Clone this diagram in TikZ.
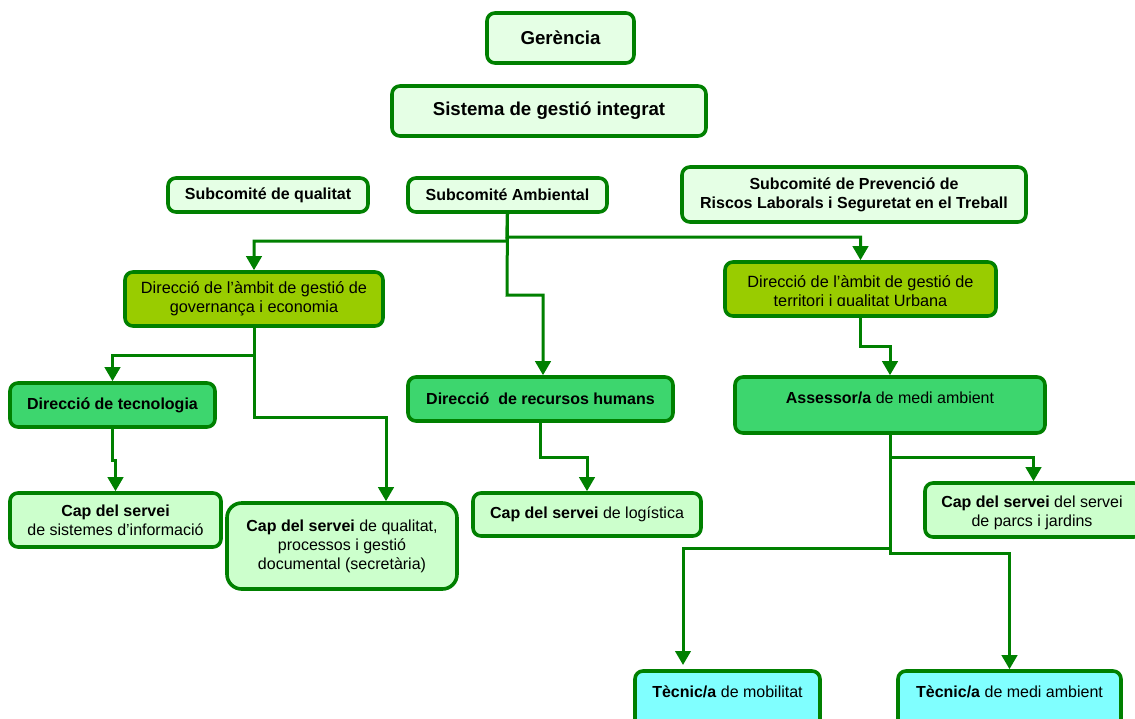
\documentclass[tikz,border=0pt]{standalone}
\usepackage{fontspec}
\setmainfont{Liberation Sans}
\usetikzlibrary{arrows.meta}
\definecolor{lineg}{RGB}{0,128,0}
\definecolor{topfill}{RGB}{229,255,229}
\definecolor{capfill}{RGB}{204,255,204}
\definecolor{olivef}{RGB}{153,204,0}
\definecolor{midg}{RGB}{61,214,110}
\definecolor{cyanf}{RGB}{128,255,255}
\newcommand{\orgbox}[7]{\node[#1, minimum width={((#5)-(#3))*0.75pt}, minimum height={((#6)-(#4))*0.75pt}] (#2) at ({((#3)+(#5))/2},{((#4)+(#6))/2}) {#7};}
\begin{document}
\begin{tikzpicture}[x=0.75pt,y=-0.75pt,
  box/.style={draw=lineg, line width=2.7pt, rounded corners=6pt, inner sep=0pt, align=center, text=black},
  topbox/.style={box, fill=topfill},
  capbox/.style={box, fill=capfill},
  olbox/.style={box, fill=olivef},
  mgbox/.style={box, fill=midg},
  tecbox/.style={box, fill=cyanf},
  big/.style={font=\fontsize{14}{16.5}\selectfont\bfseries},
  med/.style={font=\fontsize{12}{14.25}\selectfont},
  medb/.style={font=\fontsize{12}{14.25}\selectfont\bfseries},
  dir/.style={font=\fontsize{12.2}{14.25}\selectfont},
  txt/.style={inner sep=0pt, align=center, text=black},
  conn/.style={draw=lineg, line width=2.25pt, -{Triangle[width=11.5pt,length=10.5pt]}}]
\useasboundingbox (0,0) rectangle (1135,718);
% boxes
\orgbox{topbox,big}{ger}{487}{13}{634}{63}{Gerència}
\orgbox{topbox,big}{sis}{392}{86}{706}{136}{Sistema de gestió integrat}
\orgbox{topbox,medb}{subq}{168}{178}{368}{212}{Subcomité de qualitat}
\orgbox{topbox,medb}{subamb}{408}{178}{607}{212}{Subcomité Ambiental}
\orgbox{topbox,medb}{subprev}{682}{167}{1026}{222}{Subcomité de Prevenció de\\Riscos Laborals i Seguretat en el Treball}
\orgbox{olbox,dir}{dirgov}{125}{272}{383}{326}{Direcció de l’àmbit de gestió de\\governança i economia}
\orgbox{olbox}{dirterr}{725}{262}{996}{316}{}
\begin{scope}
\clip (725,262) rectangle (996,305);
\node[txt,dir] (dirterrtxt) at (860.5,292.5) {Direcció de l’àmbit de gestió de\\territori i qualitat Urbana};
\end{scope}
\orgbox{mgbox,medb}{dirtec}{10}{383}{215}{427}{Direcció de tecnologia}
\orgbox{mgbox,medb}{dirrh}{408}{377}{673}{421}{Direcció\ \ de recursos humans}
\orgbox{mgbox}{assessor}{735}{377}{1045}{433}{}
\node[txt,med] (assessortxt) at (890,398) {\textbf{Assessor/a} de medi ambient};
\orgbox{capbox,med}{capsis}{10}{493}{221}{547}{\textbf{Cap del servei}\\de sistemes d’informació}
\orgbox{capbox,med,rounded corners=11pt}{capqual}{227}{503}{457}{589}{\textbf{Cap del servei} de qualitat,\\processos i gestió\\documental (secretària)}
\orgbox{capbox,med}{caplog}{473}{493}{701}{536}{\textbf{Cap del servei} de logística}
\orgbox{capbox}{capparcs}{925}{483}{1142}{537}{}
\node[txt,med] (capparcstxt) at (1032,512.5) {\textbf{Cap del servei} del servei\\de parcs i jardins};
\orgbox{tecbox}{tecmob}{635}{671}{820}{745}{}
\node[txt,med] (tecmobtxt) at (727.5,692) {\textbf{Tècnic/a} de mobilitat};
\orgbox{tecbox}{tecma}{898}{671}{1121}{745}{}
\node[txt,med] (tecmatxt) at (1009.5,692) {\textbf{Tècnic/a} de medi ambient};
% junctions
\coordinate (j1) at (507,241);
\coordinate (j2) at (507,237);
\coordinate (j3) at (507,295);
\coordinate (j3b) at (543,295);
\coordinate (j4) at (254,355);
\coordinate (j5) at (254,417);
\coordinate (j5b) at (386,417);
\coordinate (j6) at (112.5,460);
\coordinate (j7) at (540.5,457);
\coordinate (j8) at (860.5,346);
\coordinate (j9) at (890,457);
\coordinate (j10) at (890,548);
\coordinate (j10b) at (683,548);
\coordinate (e10) at (683,665);
\coordinate (j11) at (890,553);
% connectors
\draw[conn] (subamb.south) -- (j1) -| (dirgov.north);
\draw[conn] (subamb.south) -- (j2) -| (dirterr.north);
\draw[conn] (subamb.south) -- (j3) -- (j3b) -- (j3b |- dirrh.north);
\draw[conn] (dirgov.south) -- (j4) -| (dirtec.north);
\draw[conn] (dirgov.south) -- (j5) -- (j5b) -- (j5b |- capqual.north);
\draw[conn] (dirtec.south) -- (j6) -| (capsis.north);
\draw[conn] (dirrh.south) -- (j7) -| (caplog.north);
\draw[conn] (dirterr.south) -- (j8) -| (assessor.north);
\draw[conn] (assessor.south) -- (j9) -| (capparcs.north);
\draw[conn] (assessor.south) -- (j10) -- (j10b) -- (e10);
\draw[conn] (assessor.south) -- (j11) -| (tecma.north);
\end{tikzpicture}
\end{document}
